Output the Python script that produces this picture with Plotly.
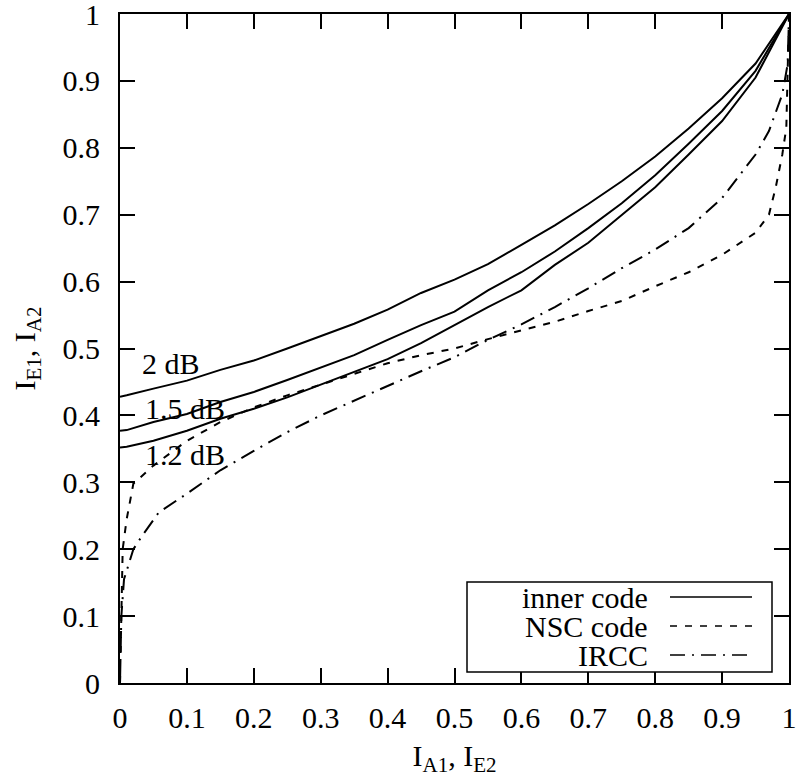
import plotly.graph_objects as go

# ---- data ----
x_inner = [0, 0.01, 0.05, 0.1, 0.15, 0.2, 0.25, 0.3, 0.35, 0.4, 0.45, 0.5,
           0.55, 0.6, 0.65, 0.7, 0.75, 0.8, 0.85, 0.9, 0.95, 1.0]
y_2db = [0.428, 0.43, 0.44, 0.452, 0.468, 0.482, 0.50, 0.518, 0.537, 0.558, 0.583, 0.603,
         0.626, 0.655, 0.684, 0.716, 0.75, 0.787, 0.829, 0.874, 0.926, 1.0]
y_15db = [0.377, 0.378, 0.39, 0.402, 0.42, 0.435, 0.453, 0.472, 0.49, 0.513, 0.535, 0.555,
          0.587, 0.614, 0.645, 0.68, 0.717, 0.759, 0.806, 0.855, 0.915, 1.0]
y_12db = [0.352, 0.353, 0.362, 0.377, 0.395, 0.41, 0.427, 0.446, 0.464, 0.484, 0.508, 0.535,
          0.562, 0.587, 0.625, 0.658, 0.70, 0.741, 0.79, 0.84, 0.905, 1.0]

x_nsc = [0, 0.002, 0.004, 0.01, 0.02, 0.05, 0.1, 0.15, 0.2, 0.25, 0.3, 0.35, 0.4, 0.45,
         0.5, 0.55, 0.6, 0.65, 0.7, 0.75, 0.8, 0.85, 0.9, 0.95, 0.97, 0.98, 0.99, 0.996, 1.0]
y_nsc = [0, 0.1, 0.2, 0.245, 0.298, 0.325, 0.362, 0.39, 0.412, 0.43, 0.446, 0.462, 0.478, 0.49,
         0.50, 0.514, 0.527, 0.54, 0.556, 0.571, 0.593, 0.614, 0.64, 0.673, 0.70, 0.74, 0.79, 0.83, 1.0]

x_ircc = [0, 0.002, 0.006, 0.02, 0.033, 0.058, 0.1, 0.15, 0.2, 0.25, 0.3, 0.35, 0.4, 0.45,
          0.5, 0.55, 0.6, 0.65, 0.7, 0.75, 0.8, 0.85, 0.9, 0.95, 0.97, 0.99, 0.998, 1.0]
y_ircc = [0, 0.1, 0.155, 0.2, 0.22, 0.255, 0.283, 0.318, 0.347, 0.375, 0.40, 0.422, 0.445, 0.466,
          0.487, 0.513, 0.536, 0.562, 0.59, 0.62, 0.648, 0.68, 0.725, 0.79, 0.825, 0.88, 0.925, 1.0]

tick_vals = [0, 0.1, 0.2, 0.3, 0.4, 0.5, 0.6, 0.7, 0.8, 0.9, 1.0]
tick_text = ["0", "0.1", "0.2", "0.3", "0.4", "0.5", "0.6", "0.7", "0.8", "0.9", "1"]

curve_labels = ["2 dB", "1.5 dB", "1.2 dB"]
label_x = [0.03, 0.034, 0.034]
label_y = [0.478, 0.411, 0.341]

legend_names = ["inner code", "NSC code", "IRCC"]

FONT = "Liberation Serif, Times New Roman, serif"
FS = 30
DASH_NSC = "7px,8px"
DASH_IRCC = "15px,7px,2px,7px"

fig = go.Figure()
for yv in (y_2db, y_15db, y_12db):
    fig.add_trace(go.Scatter(x=x_inner, y=yv, mode="lines",
                             line=dict(color="black", width=2), showlegend=False))
fig.add_trace(go.Scatter(x=x_nsc, y=y_nsc, mode="lines",
                         line=dict(color="black", width=2, dash=DASH_NSC), showlegend=False))
fig.add_trace(go.Scatter(x=x_ircc, y=y_ircc, mode="lines",
                         line=dict(color="black", width=2, dash=DASH_IRCC), showlegend=False))

for t, lx, ly in zip(curve_labels, label_x, label_y):
    fig.add_annotation(x=lx, y=ly, text=t, showarrow=False, xanchor="left", yanchor="middle",
                       font=dict(family=FONT, size=FS, color="black"))

# custom legend (text left, sample right) in paper coordinates
W, H = 800, 781
L, R, T, B = 120, 11, 14, 98
pw, ph = W - L - R, H - T - B
def px(xp):
    return (xp - L) / pw
def py(yp):
    return (H - B - yp) / ph

fig.add_shape(type="rect", xref="paper", yref="paper",
              x0=px(467), x1=px(772), y0=py(672), y1=py(582),
              line=dict(color="black", width=1.5), fillcolor="white", layer="above")
rows_y = [597, 626, 655]
dashes = ["solid", DASH_NSC, DASH_IRCC]
for name, ry, d in zip(legend_names, rows_y, dashes):
    fig.add_annotation(xref="paper", yref="paper", x=px(650), y=py(ry), text=name,
                       showarrow=False, xanchor="right", yanchor="middle",
                       font=dict(family=FONT, size=FS, color="black"))
    fig.add_shape(type="line", xref="paper", yref="paper",
                  x0=px(670), x1=px(752), y0=py(ry), y1=py(ry),
                  line=dict(color="black", width=1.5, dash=d), layer="above")

axis_common = dict(range=[0, 1], tickvals=tick_vals, ticktext=tick_text,
                   showline=True, linecolor="black", linewidth=2, mirror="ticks",
                   ticks="inside", ticklen=15, tickwidth=1.5, tickcolor="black",
                   showgrid=False, zeroline=False, ticklabeloverflow="allow",
                   automargin=False,
                   tickfont=dict(family=FONT, size=FS, color="black"))

fig.update_layout(
    width=W, height=H,
    margin=dict(l=L, r=R, t=T, b=B),
    paper_bgcolor="white", plot_bgcolor="white",
    showlegend=False,
    xaxis=dict(**axis_common, ticklabelstandoff=7,
               title=dict(text="I<sub>A1</sub>, I<sub>E2</sub>",
                          font=dict(family=FONT, size=FS, color="black"), standoff=12)),
    yaxis=dict(**axis_common, ticklabelstandoff=12,
               title=dict(text="I<sub>E1</sub>, I<sub>A2</sub>",
                          font=dict(family=FONT, size=FS, color="black"), standoff=18)),
)

fig.write_html("out.html")
